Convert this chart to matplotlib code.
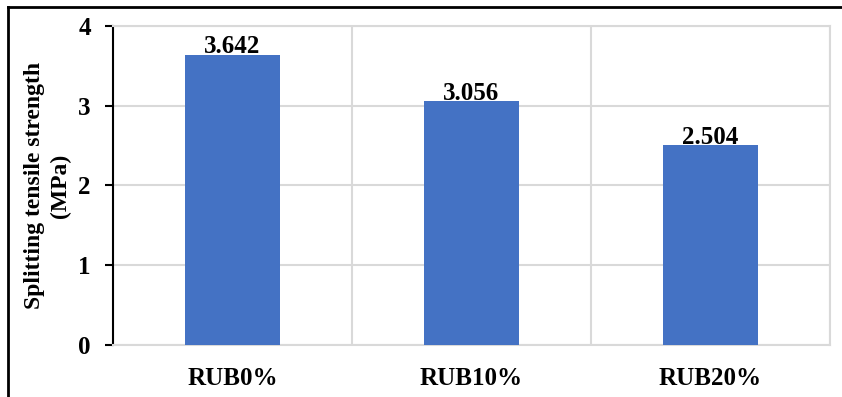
#Splitting tensile strength by rubber content

#import libraries
import numpy as np
import matplotlib.pyplot as plt
from matplotlib.lines import Line2D

#data
mixes = ['RUB0%', 'RUB10%', 'RUB20%']
strength = [3.642, 3.056, 2.504]

plt.rcParams['font.family'] = ['Liberation Serif', 'DejaVu Serif']
plt.rcParams['font.weight'] = 'bold'

fig = plt.figure(figsize=(8.42, 3.97), dpi=100)
ax = fig.add_axes([0.1342, 0.131, 0.8515, 0.8035])

x = np.arange(len(mixes))
bars = ax.bar(x, strength, width=0.4, color='#4472C4', zorder=3)

#value labels on top of bars
for xi, v in zip(x, strength):
    ax.text(xi, v - 0.045, '%.3f' % v, ha='center', va='bottom',
            fontsize=18, fontweight='bold', zorder=4)

ax.set_xlim(-0.5, len(mixes) - 0.5)
ax.set_ylim(0, 4)
ax.set_yticks([0, 1, 2, 3, 4])

#grid lines: horizontal at ticks, vertical between categories
ax.set_xticks(x)
ax.set_xticklabels(mixes, fontsize=18, fontweight='bold')
ax.set_xticks(np.arange(len(mixes) + 1) - 0.5, minor=True)
ax.grid(axis='y', color='#d9d9d9', linewidth=1.5, zorder=0)
ax.grid(axis='x', which='minor', color='#d9d9d9', linewidth=1.5, zorder=0)
ax.tick_params(axis='x', which='both', length=0, pad=16)
ax.tick_params(axis='y', length=6, width=1.5, pad=10, labelsize=18)
for lbl in ax.get_yticklabels():
    lbl.set_fontweight('bold')

ax.spines['left'].set_linewidth(1.5)
for s in ['top', 'right', 'bottom']:
    ax.spines[s].set_color('#d9d9d9')
    ax.spines[s].set_linewidth(1.5)

ax.set_ylabel('Splitting tensile strength\n(MPa)', fontsize=17,
              fontweight='bold', labelpad=5, linespacing=1.3)

#outer frame
fig.add_artist(Line2D([0.0095, 0.0095], [0, 0.982], color='black', lw=2))
fig.add_artist(Line2D([0.0095, 1.0], [0.982, 0.982], color='black', lw=2))

plt.savefig('out.png', dpi=100)
